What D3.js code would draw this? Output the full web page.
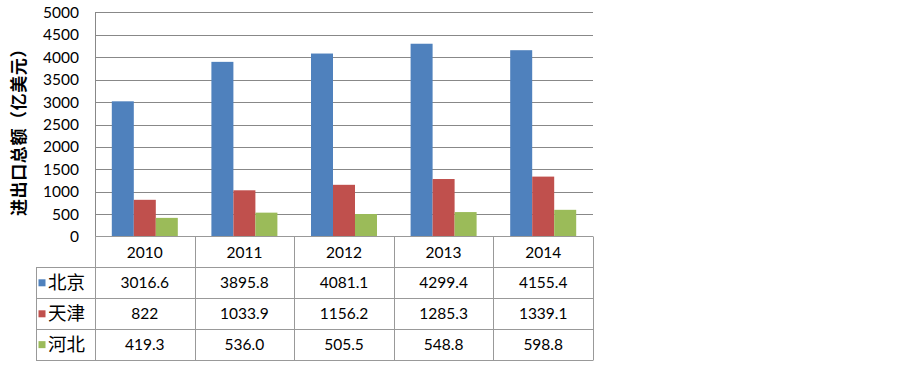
<!DOCTYPE html>
<html><head><meta charset="utf-8">
<script src="https://cdn.jsdelivr.net/npm/d3@7"></script>
<style>body{margin:0;background:#fff}svg{display:block}</style>
</head><body><svg id="c" width="903" height="365"></svg>
<script>
const categories = ["2010","2011","2012","2013","2014"];
const seriesNames = ["北京","天津","河北"];
const beijing = [3016.6, 3895.8, 4081.1, 4299.4, 4155.4];
const tianjin = [822, 1033.9, 1156.2, 1285.3, 1339.1];
const hebei = [419.3, 536.0, 505.5, 548.8, 598.8];
const tableLabels = [
  ["3016.6","3895.8","4081.1","4299.4","4155.4"],
  ["822","1033.9","1156.2","1285.3","1339.1"],
  ["419.3","536.0","505.5","548.8","598.8"]
];
const yTicks = [0,500,1000,1500,2000,2500,3000,3500,4000,4500,5000];
const colors = ["#4F81BD","#C0504D","#9BBB59"];
const yTitle = "进出口总额（亿美元）";

const series = [beijing, tianjin, hebei];
const svg = d3.select("#c");
const L = 95, R = 593, T = 12.3, B = 236.7;
const font = "Lato, 'Noto Sans CJK SC', sans-serif";
const x = d3.scaleBand().domain(categories).range([L, R]).paddingInner(0).paddingOuter(0);
const y = d3.scaleLinear().domain([0, 5000]).range([B, T]);
const xs = d3.scaleBand().domain(d3.range(3)).range([0, 66]);

// gridlines
svg.append("g").selectAll("line").data(yTicks.filter(d => d > 0)).join("line")
  .attr("x1", L).attr("x2", R).attr("y1", d => Math.round(y(d)) + 0.5).attr("y2", d => Math.round(y(d)) + 0.5)
  .attr("stroke", "#888").attr("stroke-width", 1);

// bars
series.forEach((s, i) => {
  svg.append("g").selectAll("rect").data(s).join("rect")
    .attr("x", (d, j) => x(categories[j]) + x.bandwidth()/2 - 33 + xs(i))
    .attr("width", xs.bandwidth())
    .attr("y", d => y(d)).attr("height", d => B - y(d))
    .attr("fill", colors[i]);
});

// y axis
const yAxis = d3.axisLeft(y).tickValues(yTicks).tickSize(0).tickPadding(16).tickFormat(d3.format("d"));
const ga = svg.append("g").attr("transform", `translate(${L},0)`).call(yAxis);
ga.select(".domain").attr("stroke", "#888");
ga.selectAll("text").attr("font-family", font).attr("font-size", 15.5).attr("fill", "#000");

// y title
svg.append("text").attr("transform", `translate(25,128) rotate(-90)`)
  .attr("text-anchor", "middle").attr("font-family", "'Noto Sans CJK SC', sans-serif")
  .attr("font-size", 17).attr("font-weight", "bold").attr("letter-spacing", 0.6)
  .attr("fill", "#000").text(yTitle);

// data table
const rowY = [236.7, 267.3, 298.3, 329.3, 360];
const tg = svg.append("g").attr("stroke", "#999").attr("stroke-width", 1).attr("fill", "none");
tg.append("line").attr("x1", L).attr("x2", R).attr("y1", 236.5).attr("y2", 236.5);
rowY.slice(1).forEach(ry => {
  tg.append("line").attr("x1", 36).attr("x2", R).attr("y1", Math.round(ry)+0.5).attr("y2", Math.round(ry)+0.5);
});
categories.concat(["end"]).forEach((c, j) => {
  const xx = Math.round(L + j * x.bandwidth()) + 0.5;
  tg.append("line").attr("x1", xx).attr("x2", xx).attr("y1", 236.5).attr("y2", 360.5);
});
tg.append("line").attr("x1", 36.5).attr("x2", 36.5).attr("y1", 267.5).attr("y2", 360.5);

svg.append("g").selectAll("text").data(categories).join("text")
  .attr("x", d => x(d) + x.bandwidth()/2).attr("y", (rowY[0]+rowY[1])/2 + 5.5)
  .attr("text-anchor", "middle").attr("font-family", font).attr("font-size", 15.5).attr("fill", "#000")
  .text(d => d);
tableLabels.forEach((row, i) => {
  const cy = (rowY[i+1] + rowY[i+2]) / 2;
  svg.append("g").selectAll("text").data(row).join("text")
    .attr("x", (d, j) => x(categories[j]) + x.bandwidth()/2).attr("y", cy + 5.5)
    .attr("text-anchor", "middle").attr("font-family", font).attr("font-size", 15.5).attr("fill", "#000")
    .text(d => d);
  svg.append("rect").attr("x", 38.5).attr("y", cy - 3.5).attr("width", 7).attr("height", 7).attr("fill", colors[i]);
  svg.append("text").attr("x", 48).attr("y", cy + 6.5).attr("font-family", "'Noto Sans CJK SC', sans-serif")
    .attr("font-size", 18.5).attr("fill", "#000").text(seriesNames[i]);
});
</script></body></html>
